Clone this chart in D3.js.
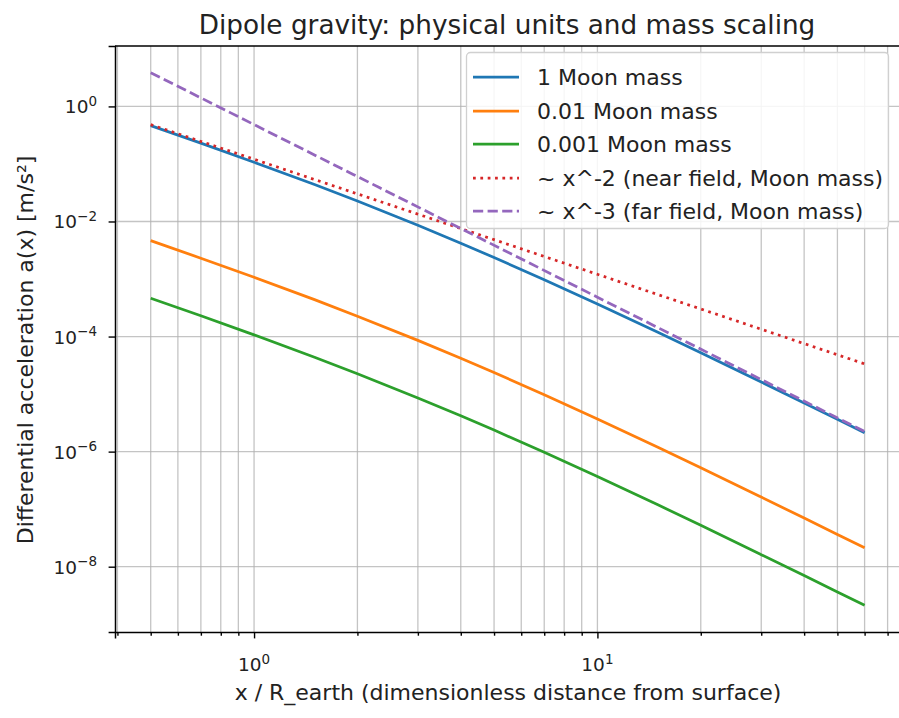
<!DOCTYPE html>
<html><head><meta charset="utf-8">
<script src="https://cdn.jsdelivr.net/npm/d3@7"></script>
<style>
body{margin:0;background:#fff;}
svg{display:block;font-family:"DejaVu Sans",sans-serif;}
</style></head>
<body><svg id="c" width="899" height="718"></svg>
<script>
// ---- data ----
const xs = [0.5, 0.7, 1, 1.5, 2, 3, 4, 5, 7, 10, 15, 20, 30, 40, 50, 60];
const moon1 = [0.4635, 0.2298, 0.1073, 0.04379, 0.02263, 0.008583, 0.004191, 0.002365, 0.000973, 0.0003688, 0.0001188, 5.24e-5, 1.624e-5, 7.01e-6, 3.64e-6, 2.128e-6];
const moon001 = [4.64e-3, 2.30e-3, 1.07e-3, 4.38e-4, 2.26e-4, 8.58e-5, 4.19e-5, 2.37e-5, 9.73e-6, 3.69e-6, 1.19e-6, 5.24e-7, 1.62e-7, 7.0e-8, 3.64e-8, 2.13e-8];
const moon0001 = [4.64e-4, 2.30e-4, 1.07e-4, 4.38e-5, 2.26e-5, 8.58e-6, 4.19e-6, 2.37e-6, 9.73e-7, 3.69e-7, 1.19e-7, 5.24e-8, 1.62e-8, 7.0e-9, 3.64e-9, 2.13e-9];
const refX = [0.5, 1, 10, 60];
const nearField = [0.483, 0.1207, 0.001207, 3.35e-5];
const farField = [3.86, 0.483, 4.83e-4, 2.235e-6];
const seriesNames = ["1 Moon mass", "0.01 Moon mass", "0.001 Moon mass", "~ x^-2 (near field, Moon mass)", "~ x^-3 (far field, Moon mass)"];
const seriesColors = ["#1f77b4", "#ff7f0e", "#2ca02c", "#d62728", "#9467bd"];
const seriesDash = [null, null, null, "2.75,4.6", "10.2,4.4"];
const yTickValues = [1, 1e-2, 1e-4, 1e-6, 1e-8];
const yTickExp = ["0", "\u22122", "\u22124", "\u22126", "\u22128"];
const xTickValues = [1, 10];
const xTickExp = ["0", "1"];
const xMinorTicks = [0.4,0.5,0.6,0.7,0.8,0.9,2,3,4,5,6,7,8,9,20,30,40,50,60,70];
const title = "Dipole gravity: physical units and mass scaling";
const xLabel = "x / R_earth (dimensionless distance from surface)";
const yLabel = "Differential acceleration a(x) [m/s\u00b2]";

// ---- layout ----
const L = 115, R = 900.3, T = 46, B = 632;
const svg = d3.select("#c");
const x = d3.scaleLog().domain([Math.pow(10,-0.40499), Math.pow(10,1.88211)]).range([L, R]);
const y = d3.scaleLog().domain([Math.pow(10,-9.135), Math.pow(10,1.050)]).range([B, T]);

const clipId = "clipA";
svg.append("clipPath").attr("id", clipId).append("rect").attr("x", L).attr("y", T).attr("width", R-L).attr("height", B-T);

// grid
const grid = svg.append("g");
xMinorTicks.concat(xTickValues).forEach(v => {
  grid.append("line").attr("x1", x(v)).attr("x2", x(v)).attr("y1", T).attr("y2", B)
    .attr("stroke", "#b0b0b0").attr("stroke-opacity", 0.75).attr("stroke-width", 1.3);
});
yTickValues.forEach(v => {
  grid.append("line").attr("x1", L).attr("x2", R).attr("y1", y(v)).attr("y2", y(v))
    .attr("stroke", "#b0b0b0").attr("stroke-opacity", 0.75).attr("stroke-width", 1.3);
});

// lines
const plotG = svg.append("g").attr("clip-path", `url(#${clipId})`);
const seriesData = [
  xs.map((d,i)=>[d, moon1[i]]),
  xs.map((d,i)=>[d, moon001[i]]),
  xs.map((d,i)=>[d, moon0001[i]]),
  refX.map((d,i)=>[d, nearField[i]]),
  refX.map((d,i)=>[d, farField[i]])
];
const line = d3.line().x(d=>x(d[0])).y(d=>y(d[1])).curve(d3.curveMonotoneX);
seriesData.forEach((s,i)=>{
  plotG.append("path").attr("d", line(s)).attr("fill","none")
    .attr("stroke", seriesColors[i]).attr("stroke-width", 2.75)
    .attr("stroke-dasharray", seriesDash[i]);
});

// axes
const fs = 22, tfs = 18.5, sfs = 13.5;
const xAxis = d3.axisBottom(x).tickValues(xTickValues).tickSize(6.4).tickPadding(6.4).tickFormat("");
const gx = svg.append("g").attr("transform", `translate(0,${B})`).call(xAxis);
const xMinorAxis = d3.axisBottom(x).tickValues(xMinorTicks).tickSize(3.7).tickFormat("");
const gxm = svg.append("g").attr("transform", `translate(0,${B})`).call(xMinorAxis);
gxm.select(".domain").remove();
const yAxis = d3.axisLeft(y).tickValues(yTickValues).tickSize(6.4).tickFormat("");
const gy = svg.append("g").attr("transform", `translate(${L},0)`).call(yAxis);
[gx, gxm, gy].forEach(g => {
  g.selectAll(".tick line").attr("stroke", "#000").attr("stroke-width", 1.4);
});
gx.select(".domain").attr("stroke-width", 1.5);
gy.select(".domain").attr("stroke-width", 1.5);

// tick labels with superscripts
xTickValues.forEach((v,i)=>{
  const t = svg.append("text").attr("x", x(v)).attr("y", 671).attr("text-anchor","middle")
    .attr("font-size", tfs).attr("fill","#222");
  t.append("tspan").text("10");
  t.append("tspan").attr("dy", -7.5).attr("font-size", sfs).text(xTickExp[i]);
});
yTickValues.forEach((v,i)=>{
  const t = svg.append("text").attr("x", 97).attr("y", y(v) + 7).attr("text-anchor","end")
    .attr("font-size", tfs).attr("fill","#222");
  t.append("tspan").text("10");
  t.append("tspan").attr("dy", -7.5).attr("font-size", sfs).text(yTickExp[i]);
});

// spines top/right
svg.append("line").attr("x1", L).attr("x2", R).attr("y1", T).attr("y2", T).attr("stroke","#000").attr("stroke-width",1.5);
svg.append("line").attr("x1", R).attr("x2", R).attr("y1", T).attr("y2", B).attr("stroke","#000").attr("stroke-width",1.5);

// title & labels
svg.append("text").attr("x", 507).attr("y", 34).attr("text-anchor","middle")
  .attr("font-size", 26.3).attr("fill","#222").text(title);
svg.append("text").attr("x", 508).attr("y", 700).attr("text-anchor","middle")
  .attr("font-size", fs).attr("fill","#222").text(xLabel);
svg.append("text").attr("transform", `translate(33,350) rotate(-90)`).attr("text-anchor","middle")
  .attr("font-size", fs).attr("fill","#222").text(yLabel);

// legend
const lg = svg.append("g");
lg.append("rect").attr("x", 466.5).attr("y", 52.5).attr("width", 422).attr("height", 176).attr("rx", 4)
  .attr("fill", "#fff").attr("fill-opacity", 0.85).attr("stroke", "#d0d0d0").attr("stroke-width", 1.3);
const rowY = [77, 111, 144, 178, 211];
seriesNames.forEach((n,i)=>{
  lg.append("line").attr("x1", 473).attr("x2", 519).attr("y1", rowY[i]).attr("y2", rowY[i])
    .attr("stroke", seriesColors[i]).attr("stroke-width", 2.75)
    .attr("stroke-dasharray", seriesDash[i]);
  lg.append("text").attr("x", 537).attr("y", rowY[i] + 8).attr("font-size", fs).attr("fill","#222").text(n);
});
</script></body></html>
